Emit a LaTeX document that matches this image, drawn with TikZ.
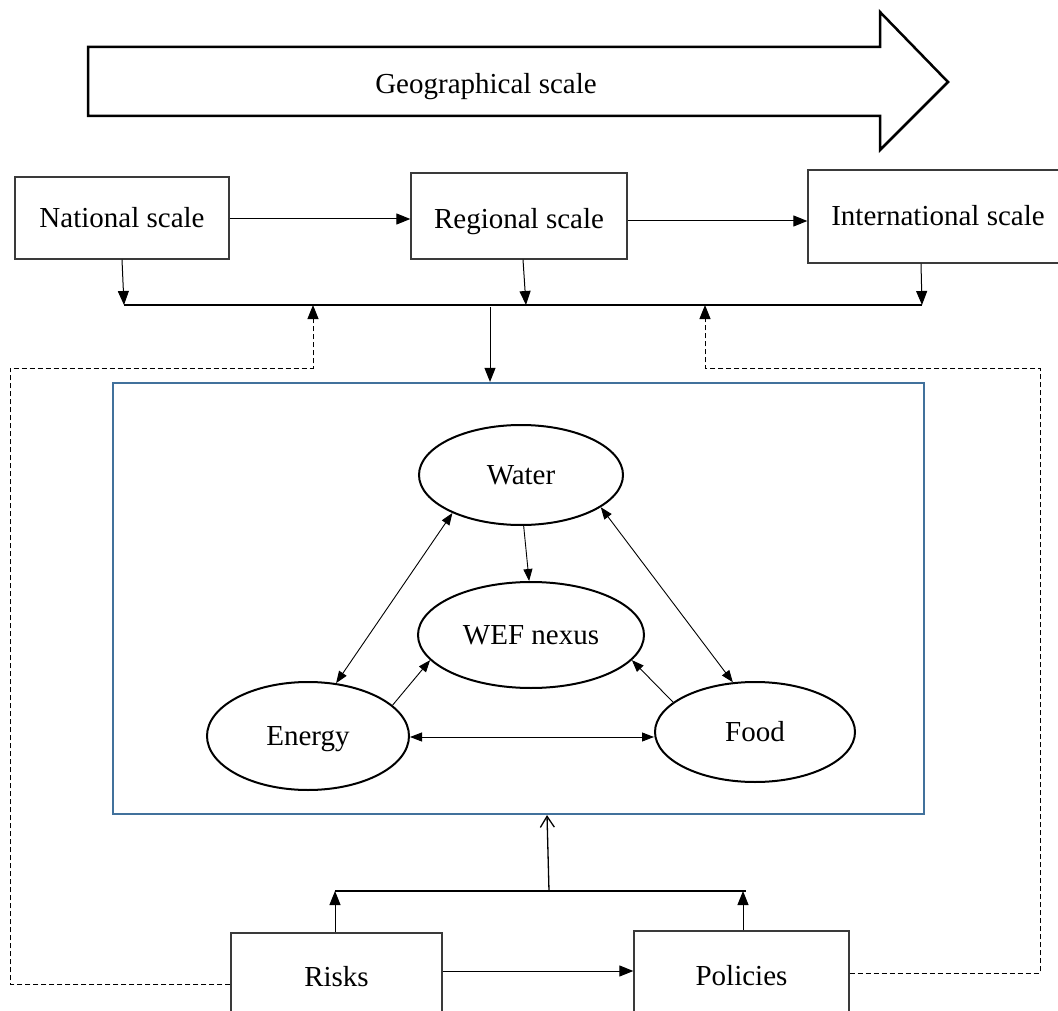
\documentclass[tikz,border=0pt]{standalone}
\usepackage{fontspec}
\setmainfont{Liberation Serif}
\usetikzlibrary{arrows.meta,shapes.geometric,calc}
\definecolor{boxblue}{HTML}{41719C}
\definecolor{boxgray}{HTML}{3A3A3A}
\begin{document}
\begin{tikzpicture}[x=1pt,y=-1pt,
  every node/.style={font=\fontsize{29}{34}\selectfont, inner sep=0pt, text height=19pt, text depth=0pt},
  scalebox/.style={draw=boxgray, line width=1.3pt, rectangle},
  ell/.style={draw=black, line width=2pt, ellipse},
  bus/.style={draw=black, line width=2.5pt},
  conn/.style={draw=black, line width=1pt, -{Triangle[length=14pt,width=11pt]}},
  thinconn/.style={draw=black, line width=0.9pt, {Triangle[length=12pt,width=9pt]}-{Triangle[length=12pt,width=9pt]}},
  oneconn/.style={draw=black, line width=0.9pt, -{Triangle[length=12pt,width=9pt]}},
  dashline/.style={draw=black, line width=1pt, dash pattern=on 5pt off 3pt, -{Triangle[length=14pt,width=11pt]}}
]
\useasboundingbox (0,0) rectangle (1058,1011);

% big arrow
\draw[line width=2.5pt, line join=miter] (88,47) -- (880,47) -- (880,12) -- (948,82) -- (880,150) -- (880,116) -- (88,116) -- cycle;
\node (geo) at (486,84) {Geographical scale};

% scale boxes
\node[scalebox, minimum width=214pt, minimum height=82pt] (nat) at (122,218) {National scale};
\node[scalebox, minimum width=216pt, minimum height=86pt] (reg) at (519,216) {\raisebox{-3pt}{Regional scale}};
\node[scalebox, minimum width=260pt, minimum height=93pt] (int) at (938,216.5) {International scale};

\draw[conn] (nat.east |- 0,219) -- (reg.west |- 0,219);
\draw[conn] (reg.east |- 0,221) -- (int.west |- 0,221);

% top bus
\coordinate (busL) at (124,305);
\coordinate (busR) at (922,305);
\draw[bus] (busL) -- (busR);
\draw[conn] (nat.south) -- (busL);
\draw[conn] ([xshift=4pt]reg.south) -- (526,305);
\draw[conn] ([xshift=-17pt]int.south) -- (busR);

% core blue box
\node[draw=boxblue, line width=2.2pt, minimum width=811pt, minimum height=431pt] (core) at (518.5,598.5) {};
\coordinate (busdown) at (490,307);
\draw[conn] (busdown) -- (busdown |- core.north);

% ellipses
\node[ell, minimum width=204pt, minimum height=100pt] (water) at (521,475) {Water};
\node[ell, minimum width=226pt, minimum height=106pt] (wef) at (531,635) {WEF nexus};
\node[ell, minimum width=202pt, minimum height=108pt] (energy) at (308,736) {Energy};
\node[ell, minimum width=200pt, minimum height=100pt] (food) at (755,732) {Food};

\draw[thinconn] (energy.62) -- (water.209);
\draw[thinconn] (water.338) -- (food.114);
\draw[oneconn] (water.273) -- (wef.92);
\draw[oneconn] (energy.20) -- (wef.194);
\draw[oneconn] (food.160) -- (wef.346);
\draw[thinconn] (energy.east |- 0,737) -- (food.west |- 0,737);

% bottom boxes
\node[scalebox, minimum width=211pt, minimum height=87pt] (risk) at (336.5,976.5) {Risks};
\node[scalebox, minimum width=215pt, minimum height=89pt] (pol) at (741.5,975.5) {Policies};
\draw[conn] (risk.east |- 0,971) -- (pol.west |- 0,971);

% bottom bus
\coordinate (bbusL) at (335,891);
\coordinate (bbusR) at (746,891);
\draw[bus] (bbusL) -- (bbusR);
\draw[conn] (risk.north -| bbusL) -- (bbusL);
\draw[conn] (pol.north -| 743,0) -- (743,891);
\coordinate (bbusup) at (549,891);
\draw[line width=1.3pt, -{Straight Barb[length=11pt,width=14pt]}] (bbusup) -- (547,0 |- core.south);

% dashed feedback lines
\coordinate (dlc) at (10,368);
\coordinate (dltop) at (313,305);
\draw[dashline] (risk.west |- 0,984) -| (dlc) -| (dltop);
\coordinate (drc) at (1040,368);
\coordinate (drtop) at (705,305);
\draw[dashline] (pol.east |- 0,973) -| (drc) -| (drtop);
\end{tikzpicture}
\end{document}
